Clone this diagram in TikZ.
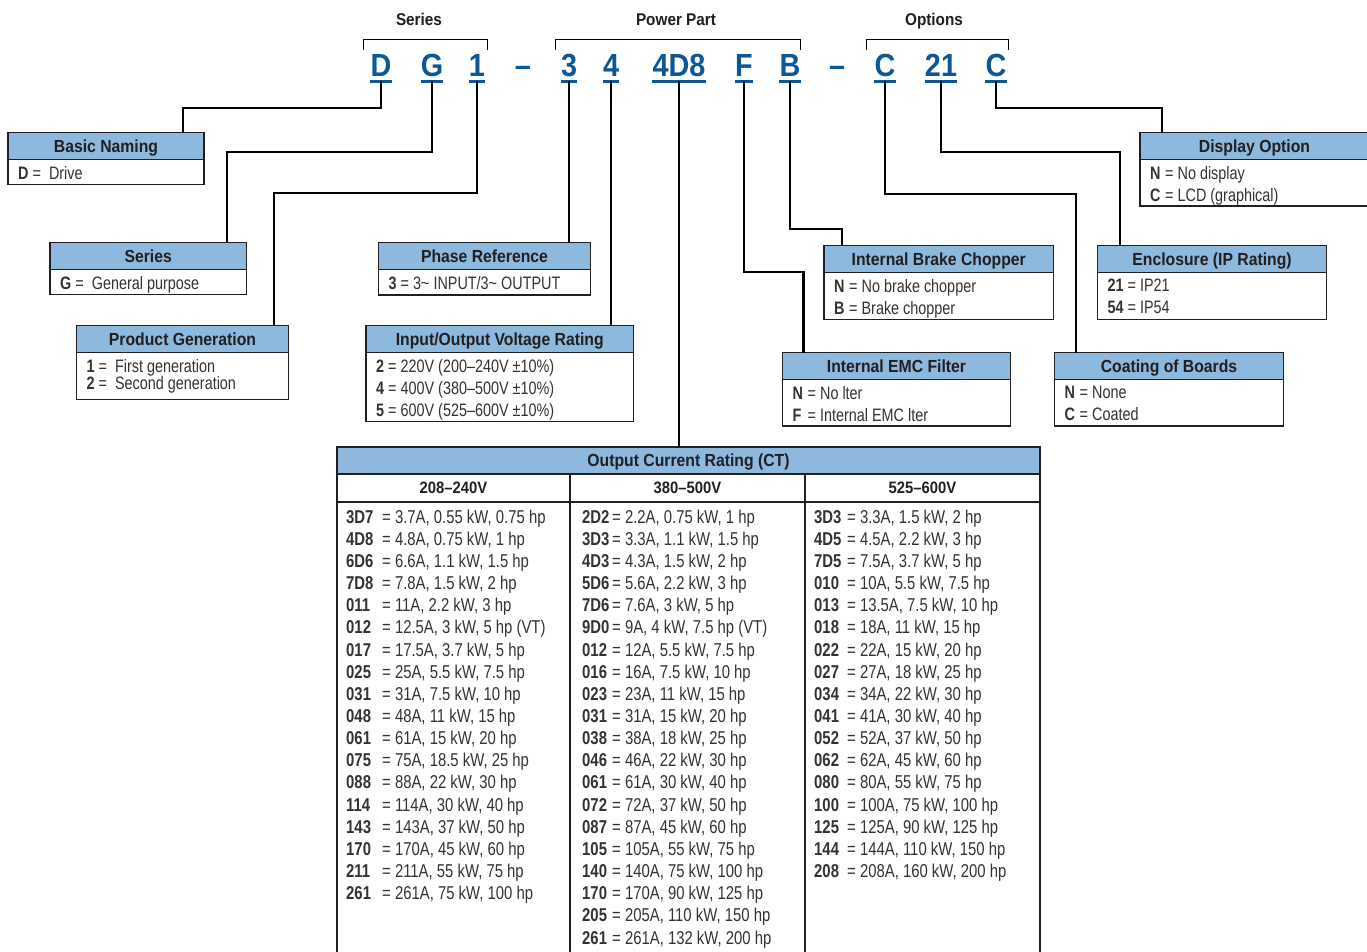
\documentclass[tikz,border=0pt]{standalone}
\usepackage{fontspec}
\setmainfont{Liberation Sans}[FakeStretch=0.8]
\newfontfamily\titlefont{Liberation Sans}[FakeStretch=0.9]
\usepackage{xcolor}
\definecolor{HeadBlue}{HTML}{8DB9DF}
\definecolor{CodeBlue}{HTML}{0C5896}
\definecolor{InkDark}{HTML}{231F20}
\definecolor{InkBody}{HTML}{333333}

\tikzset{
  link/.style={draw=black, line width=2.2pt},
  bracket/.style={draw=black, line width=1pt},
  grouplabel/.style={anchor=base, text=InkDark, font=\titlefont\bfseries\fontsize{17}{19}\selectfont},
  codechar/.style={anchor=base, inner xsep=0pt, inner ysep=4.5pt, text depth=0pt, text=CodeBlue, font=\titlefont\bfseries\fontsize{32}{34}\selectfont},
  codeline/.style={draw=CodeBlue, line width=2.8pt},
  boxhead/.style={anchor=north west, fill=HeadBlue, draw=InkDark, line width=1.4pt, inner sep=0pt, outer sep=0pt, minimum height=27pt, text height=12.6pt, text depth=0pt, text=InkDark, font=\titlefont\bfseries\fontsize{17.5}{20}\selectfont},
  subhead/.style={anchor=north west, draw=InkDark, line width=1.4pt, inner sep=0pt, outer sep=0pt, minimum height=28pt, text height=11.5pt, text depth=0pt, text=InkDark, font=\titlefont\bfseries\fontsize{16.5}{18}\selectfont},
  boxbody/.style={anchor=north west, draw=InkDark, line width=1.4pt, inner sep=0pt, outer sep=0pt},
  bodytext/.style={anchor=north west, inner sep=0pt, align=left, text=InkBody, font=\fontsize{18}{22}\selectfont},
  ratetext/.style={anchor=north west, inner sep=0pt, align=left, text=InkBody, font=\fontsize{18.6}{22.15}\selectfont},
}

\begin{document}
\begin{tikzpicture}[x=1pt, y=-1pt]

  % Seitenrahmen
  \useasboundingbox (0,0) rectangle (1367,951);
  \fill[white] (0,0) rectangle (1367,951);

  % Gruppenüberschriften mit Klammern
  \node[grouplabel] (lblSeries) at (419,25) {Series};
  \node[grouplabel] (lblPower) at (676,25) {Power Part};
  \node[grouplabel] (lblOptions) at (934,25) {Options};
  \draw[bracket] (363,49.5) |- (487,39.5) -- (487,49.5);
  \draw[bracket] (555,49.5) |- (800,39.5) -- (800,49.5);
  \draw[bracket] (866,49.5) |- (1008,39.5) -- (1008,49.5);

  % Makro für die unterstrichenen Zeichen des Typenschlüssels
  % Parameter: 1=Name, 2=x, 3=Text
  \def\codeletter#1#2#3{
    \node[codechar] (#1) at (#2,76.5) {#3};
    \draw[codeline] (#1.south west) -- (#1.south east);
  }

  \codeletter{cD}{381}{D}
  \codeletter{cG}{432}{G}
  \codeletter{cOne}{477}{1}
  \node[codechar] (dashA) at (523,76.5) {–};
  \codeletter{cThree}{569}{3}
  \codeletter{cFour}{611}{4}
  \codeletter{cRating}{679}{4D8}
  \codeletter{cF}{744}{F}
  \codeletter{cB}{790}{B}
  \node[codechar] (dashB) at (837,76.5) {–};
  \codeletter{cC}{885}{C}
  \codeletter{cIP}{941}{21}
  \codeletter{cDisp}{996}{C}

  % Makro für Erklärungskästen
  % Parameter: 1=Name, 2=x, 3=y, 4=Breite, 5=Höhe, 6=Titel, 7=Zeilen
  \def\infobox#1#2#3#4#5#6#7{
    \node[boxhead, minimum width=#4] (#1) at (#2,#3) {#6};
    \node[boxbody, minimum width=#4, minimum height=#5-27] (#1-body) at (#1.south west) {};
    \node[bodytext] (#1-text) at ([xshift=10pt,yshift=-6.5pt]#1.south west) {#7};
  }
  \def\kc#1{\makebox[11pt][l]{\bfseries #1}}

  \infobox{naming}{8}{132.5}{196}{52}{Basic Naming}{\textbf{D} = \ Drive}
  \infobox{series}{50}{242.5}{196.5}{52}{Series}{\textbf{G} = \ General purpose}
  \infobox{generation}{76.5}{325.5}{212}{74}{Product Generation}{\textbf{1} = \ First generation\\[-4.5pt]\textbf{2} = \ Second generation}
  \infobox{phase}{378.5}{242.5}{212}{52.5}{Phase Reference}{\textbf{3} = 3\textasciitilde{} INPUT/3\textasciitilde{} OUTPUT}
  \infobox{voltage}{366}{325.5}{267.5}{96}{Input/Output Voltage Rating}{\textbf{2} = 220V (200–240V ±10\%)\\ \textbf{4} = 400V (380–500V ±10\%)\\ \textbf{5} = 600V (525–600V ±10\%)}
  \infobox{brake}{824}{245.5}{229.5}{74}{Internal Brake Chopper}{\kc{N} = No brake chopper\\ \kc{B} = Brake chopper}
  \infobox{emc}{782.5}{352.5}{228}{73.5}{Internal EMC Filter}{\kc{N} = No lter\\ \kc{F} = Internal EMC lter}
  \infobox{display}{1140}{132.5}{229}{73.5}{Display Option}{\kc{N} = No display\\ \kc{C} = LCD (graphical)}
  \infobox{enclosure}{1097.5}{245.5}{229}{74}{Enclosure (IP Rating)}{\textbf{21} = IP21\\ \textbf{54} = IP54}
  \infobox{coating}{1054.5}{352.5}{229}{73.5}{Coating of Boards}{\kc{N} = None\\ \kc{C} = Coated}

  % Anschlusspunkte an den Kästen
  \coordinate (naming-in) at (183,132.5);
  \coordinate (series-in) at (227,242.5);
  \coordinate (generation-in) at (274,325.5);
  \coordinate (brake-in) at (842,245.5);
  \coordinate (emc-in) at (803.5,352.5);
  \coordinate (display-in) at (1162,132.5);
  \coordinate (enclosure-in) at (1120,245.5);
  \coordinate (coating-in) at (1076,352.5);

  % Tabelle Ausgangsstrom
  \node[boxhead, minimum width=703] (current) at (337,447) {Output Current Rating (CT)};
  \node[subhead, minimum width=233] (lv) at (current.south west) {208–240V};
  \node[subhead, minimum width=235] (mv) at (lv.north east) {380–500V};
  \node[subhead, minimum width=235] (hv) at (mv.north east) {525–600V};
  \node[boxbody, minimum width=233, minimum height=470] (lv-col) at (lv.south west) {};
  \node[boxbody, minimum width=235, minimum height=470] (mv-col) at (mv.south west) {};
  \node[boxbody, minimum width=235, minimum height=470] (hv-col) at (hv.south west) {};

  \def\rcode#1#2{\makebox[#1][l]{\bfseries #2}}

  \node[ratetext] (lv-list) at (346,509.5) {%
    \rcode{36pt}{3D7}= 3.7A, 0.55 kW, 0.75 hp\\
    \rcode{36pt}{4D8}= 4.8A, 0.75 kW, 1 hp\\
    \rcode{36pt}{6D6}= 6.6A, 1.1 kW, 1.5 hp\\
    \rcode{36pt}{7D8}= 7.8A, 1.5 kW, 2 hp\\
    \rcode{36pt}{011}= 11A, 2.2 kW, 3 hp\\
    \rcode{36pt}{012}= 12.5A, 3 kW, 5 hp (VT)\\
    \rcode{36pt}{017}= 17.5A, 3.7 kW, 5 hp\\
    \rcode{36pt}{025}= 25A, 5.5 kW, 7.5 hp\\
    \rcode{36pt}{031}= 31A, 7.5 kW, 10 hp\\
    \rcode{36pt}{048}= 48A, 11 kW, 15 hp\\
    \rcode{36pt}{061}= 61A, 15 kW, 20 hp\\
    \rcode{36pt}{075}= 75A, 18.5 kW, 25 hp\\
    \rcode{36pt}{088}= 88A, 22 kW, 30 hp\\
    \rcode{36pt}{114}= 114A, 30 kW, 40 hp\\
    \rcode{36pt}{143}= 143A, 37 kW, 50 hp\\
    \rcode{36pt}{170}= 170A, 45 kW, 60 hp\\
    \rcode{36pt}{211}= 211A, 55 kW, 75 hp\\
    \rcode{36pt}{261}= 261A, 75 kW, 100 hp};

  \node[ratetext] (mv-list) at (582,509.5) {%
    \rcode{30pt}{2D2}= 2.2A, 0.75 kW, 1 hp\\
    \rcode{30pt}{3D3}= 3.3A, 1.1 kW, 1.5 hp\\
    \rcode{30pt}{4D3}= 4.3A, 1.5 kW, 2 hp\\
    \rcode{30pt}{5D6}= 5.6A, 2.2 kW, 3 hp\\
    \rcode{30pt}{7D6}= 7.6A, 3 kW, 5 hp\\
    \rcode{30pt}{9D0}= 9A, 4 kW, 7.5 hp (VT)\\
    \rcode{30pt}{012}= 12A, 5.5 kW, 7.5 hp\\
    \rcode{30pt}{016}= 16A, 7.5 kW, 10 hp\\
    \rcode{30pt}{023}= 23A, 11 kW, 15 hp\\
    \rcode{30pt}{031}= 31A, 15 kW, 20 hp\\
    \rcode{30pt}{038}= 38A, 18 kW, 25 hp\\
    \rcode{30pt}{046}= 46A, 22 kW, 30 hp\\
    \rcode{30pt}{061}= 61A, 30 kW, 40 hp\\
    \rcode{30pt}{072}= 72A, 37 kW, 50 hp\\
    \rcode{30pt}{087}= 87A, 45 kW, 60 hp\\
    \rcode{30pt}{105}= 105A, 55 kW, 75 hp\\
    \rcode{30pt}{140}= 140A, 75 kW, 100 hp\\
    \rcode{30pt}{170}= 170A, 90 kW, 125 hp\\
    \rcode{30pt}{205}= 205A, 110 kW, 150 hp\\
    \rcode{30pt}{261}= 261A, 132 kW, 200 hp};

  \node[ratetext] (hv-list) at (814,509.5) {%
    \rcode{33pt}{3D3}= 3.3A, 1.5 kW, 2 hp\\
    \rcode{33pt}{4D5}= 4.5A, 2.2 kW, 3 hp\\
    \rcode{33pt}{7D5}= 7.5A, 3.7 kW, 5 hp\\
    \rcode{33pt}{010}= 10A, 5.5 kW, 7.5 hp\\
    \rcode{33pt}{013}= 13.5A, 7.5 kW, 10 hp\\
    \rcode{33pt}{018}= 18A, 11 kW, 15 hp\\
    \rcode{33pt}{022}= 22A, 15 kW, 20 hp\\
    \rcode{33pt}{027}= 27A, 18 kW, 25 hp\\
    \rcode{33pt}{034}= 34A, 22 kW, 30 hp\\
    \rcode{33pt}{041}= 41A, 30 kW, 40 hp\\
    \rcode{33pt}{052}= 52A, 37 kW, 50 hp\\
    \rcode{33pt}{062}= 62A, 45 kW, 60 hp\\
    \rcode{33pt}{080}= 80A, 55 kW, 75 hp\\
    \rcode{33pt}{100}= 100A, 75 kW, 100 hp\\
    \rcode{33pt}{125}= 125A, 90 kW, 125 hp\\
    \rcode{33pt}{144}= 144A, 110 kW, 150 hp\\
    \rcode{33pt}{208}= 208A, 160 kW, 200 hp};

  % Verbindungen vom Typenschlüssel zu den Kästen
  \draw[link] (cD.south) -- ++(0,27) -| (naming-in);
  \draw[link] (cG.south) -- ++(0,71) -| (series-in);
  \draw[link] (cOne.south) -- ++(0,112) -| (generation-in);
  \draw[link] (cThree.south) -- (cThree.south |- phase.north);
  \draw[link] (cFour.south) -- (cFour.south |- voltage.north);
  \draw[link] (cRating.south) -- (cRating.south |- current.north);
  \draw[link] (cF.south) -- ++(0,190.5) -| (emc-in);
  \draw[link] (cB.south) -- ++(0,148) -| (brake-in);
  \draw[link] (cC.south) -- ++(0,113) -| (coating-in);
  \draw[link] (cIP.south) -- ++(0,71) -| (enclosure-in);
  \draw[link] (cDisp.south) -- ++(0,27) -| (display-in);

\end{tikzpicture}
\end{document}
